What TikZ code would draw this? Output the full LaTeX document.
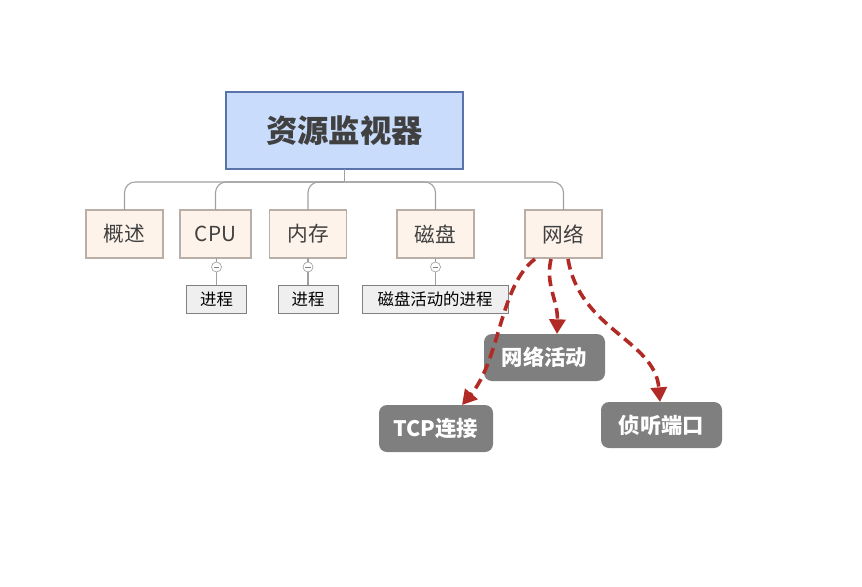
\documentclass[tikz,border=0pt]{standalone}
\usepackage{fontspec}
\setmainfont{Noto Sans CJK SC}
\usepackage{xcolor}
\usetikzlibrary{positioning, arrows.meta}
\definecolor{rootfill}{HTML}{C9DCFC}
\definecolor{rootline}{HTML}{5A73A8}
\definecolor{kidfill}{HTML}{FDF3EA}
\definecolor{kidline}{HTML}{B8AFA8}
\definecolor{subfill}{HTML}{EFEFEF}
\definecolor{treeline}{HTML}{A0A0A0}
\definecolor{graybox}{HTML}{7F7F7F}
\definecolor{redarrow}{HTML}{B22A25}
\definecolor{textgray}{HTML}{404040}

\begin{document}
\begin{tikzpicture}[x=0.75pt, y=-0.75pt,
  every node/.style={inner sep=0pt, outer sep=0pt},
  rootbox/.style={draw=rootline, fill=rootfill, line width=0.8pt,
    minimum width=177.75pt, minimum height=57.75pt,
    font=\fontsize{23.5}{23.5}\selectfont\bfseries, text=textgray},
  kid/.style={draw=kidline, fill=kidfill, line width=0.8pt,
    minimum width=57.75pt, minimum height=36pt,
    font=\fontsize{15.5}{15.5}\selectfont, text=textgray},
  subbox/.style={draw=gray, fill=subfill, line width=0.7pt,
    minimum width=45pt, minimum height=21pt,
    font=\fontsize{12.3}{12.3}\selectfont, text=black},
  fold/.style={circle, draw=treeline, fill=white, line width=0.5pt,
    minimum size=7.5pt},
  tree/.style={draw=treeline, line width=0.8pt},
  note/.style={fill=graybox, rounded corners=6pt,
    minimum width=90.75pt, minimum height=35.25pt,
    font=\fontsize{16}{16}\selectfont\bfseries, text=white},
  link/.style={draw=redarrow, line width=2.7pt, dash pattern=on 8pt off 4.5pt,
    -{Triangle[length=11pt, width=12pt]}},
]
\useasboundingbox (0,0) rectangle (862,586);

% Root
\node[rootbox] (root) at (344.5,130.5) {资源监视器};

% Children
\node[kid] (overview) at (124.5,234) {概述};
\node[kid, minimum width=53.25pt] (cpu) at (215.5,234) {CPU};
\node[kid] (mem) at (308,234) {内存};
\node[kid] (disk) at (435.5,234) {磁盘};
\node[kid] (net) at (563.5,234) {网络};

% Tree lines
\coordinate (hub) at ([yshift=-13*0.75pt]root.south);
\draw[tree] (root.south) -- (hub);
\foreach \k in {overview, cpu, mem, disk, net}
  \draw[tree, rounded corners=8pt] (hub) -| (\k.north);

% Fold markers
\node[fold] (cpuc) at (216.5,267) {};
\node[fold] (memc) at (308,267) {};
\node[fold] (diskc) at (435.5,267) {};
\foreach \c in {cpuc, memc, diskc}
  \draw[draw=gray, line width=0.6pt] ([xshift=-2pt]\c.center) -- ([xshift=2pt]\c.center);

% Sub nodes
\node[subbox] (cpuproc) at (216.5,299) {进程};
\node[subbox] (memproc) at (308,299) {进程};
\node[subbox, minimum width=109.5pt] (diskproc) at (435,299) {磁盘活动的进程};

\draw[tree] (cpu.south -| cpuc) -- (cpuc.north);
\draw[tree] (cpuc.south) -- (cpuproc.north -| cpuc);
\draw[tree] (mem.south) -- (memc.north);
\draw[tree] (memc.south) -- (memproc.north);
\draw[tree] (disk.south) -- (diskc.north);
\draw[tree] (diskc.south) -- (diskproc.north -| diskc);

% Notes
\node[note] (netact) at (544.5,357.5) {网络活动};
\node[note, minimum width=85.5pt] (tcp) at (436,428.5) {TCP连接};
\node[note, minimum height=34.5pt] (listen) at (661.5,425) {侦听端口};

% Dashed links
\coordinate (n1) at (535,259);
\coordinate (n2) at (551,259);
\coordinate (n3) at (568,259);
\draw[link] (n1) .. controls (500,285) and (500,360) .. (tcp.north -| 462,0);
\draw[link] (n2) .. controls (545,285) and (558,300) .. (netact.north -| 557,0);
\draw[link] (n3) .. controls (580,330) and (655,340) .. (listen.north -| 660,0);

\end{tikzpicture}
\end{document}
